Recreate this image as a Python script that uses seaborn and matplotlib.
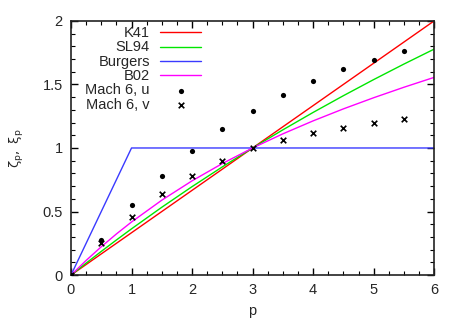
import numpy as np
import pandas as pd
import matplotlib
matplotlib.use("Agg")
import matplotlib.pyplot as plt
import seaborn as sns
from matplotlib.ticker import MultipleLocator

# Model curves
p_line = [0, 0.25, 0.5, 0.75, 1, 1.5, 2, 2.5, 3, 3.5, 4, 4.5, 5, 5.5, 6]
k41 = [0, 0.0833, 0.1667, 0.25, 0.3333, 0.5, 0.6667, 0.8333, 1.0, 1.1667, 1.3333, 1.5, 1.6667, 1.8333, 2.0]
sl94 = [0, 0.0942, 0.1863, 0.2761, 0.3640, 0.5337, 0.6959, 0.8512, 1.0, 1.1427, 1.2797, 1.4113, 1.5380, 1.6601, 1.7778]
burgers = [0, 0.25, 0.5, 0.75, 1.0, 1.0, 1.0, 1.0, 1.0, 1.0, 1.0, 1.0, 1.0, 1.0, 1.0]
b02 = [0, 0.1153, 0.2229, 0.3235, 0.4178, 0.5893, 0.7415, 0.8775, 1.0, 1.1113, 1.2133, 1.3076, 1.3953, 1.4777, 1.5556]

# Measured exponents
p_pts = [0, 0.5, 1, 1.5, 2, 2.5, 3, 3.5, 4, 4.5, 5, 5.5]
mach_u = [0, 0.28, 0.55, 0.78, 0.98, 1.15, 1.29, 1.42, 1.53, 1.62, 1.69, 1.76]
mach_v = [0, 0.25, 0.46, 0.64, 0.78, 0.90, 1.00, 1.06, 1.12, 1.16, 1.20, 1.23]

line_names = ["K41", "SL94", "Burgers", "B02"]
line_vals = [k41, sl94, burgers, b02]
line_colors = ["#ff0000", "#00e600", "#3a3aff", "#ff00ff"]

df_lines = pd.concat([pd.DataFrame({"p": p_line, "v": v, "model": n})
                      for n, v in zip(line_names, line_vals)], ignore_index=True)

sns.set_theme(style="ticks")
plt.rcParams["font.family"] = ["Liberation Sans", "DejaVu Sans"]
plt.rcParams["mathtext.fontset"] = "custom"
plt.rcParams["mathtext.rm"] = "DejaVu Sans"
plt.rcParams["mathtext.it"] = "DejaVu Sans"

fig = plt.figure(figsize=(4.58, 3.21), dpi=100)
ax = fig.add_axes([0.155, 0.143, 0.793, 0.792])

sns.lineplot(data=df_lines, x="p", y="v", hue="model", hue_order=line_names,
             palette=line_colors, linewidth=1.0, ax=ax, sort=False)
sns.scatterplot(x=p_pts, y=mach_u, color="black", marker="o", s=14,
                linewidth=0, ax=ax, label="Mach 6, u", zorder=5)
sns.scatterplot(x=p_pts, y=mach_v, color="black", marker="x", s=16,
                linewidth=1.2, ax=ax, label="Mach 6, v", zorder=5)

ax.set_xlim(0, 6)
ax.set_ylim(0, 2)
ax.xaxis.set_major_locator(MultipleLocator(1))
ax.xaxis.set_minor_locator(MultipleLocator(0.25))
ax.yaxis.set_major_locator(MultipleLocator(0.5))
ax.yaxis.set_minor_locator(MultipleLocator(0.1))
ax.set_yticks([0, 0.5, 1, 1.5, 2])
ax.set_yticklabels(["0", "0.5", "1", "1.5", "2"])
ax.tick_params(which="both", direction="in", top=True, right=True,
               labelsize=10.5, color="black")
ax.tick_params(which="major", length=5, width=1, pad=6)
ax.tick_params(which="minor", length=3, width=0.8)
for s in ax.spines.values():
    s.set_color("#222222")
    s.set_linewidth(1.2)

ax.set_xlabel("p", fontsize=10.5, labelpad=5)
ax.set_ylabel(r"$\mathrm{\zeta_p,\ \xi_p}$", fontsize=9.5, labelpad=12)

handles, labels = ax.get_legend_handles_labels()
leg = ax.legend(handles, labels, loc="upper right", bbox_to_anchor=(0.39, 1.025),
                markerfirst=False, frameon=False, fontsize=10.5,
                handlelength=2.8, handletextpad=0.7, labelspacing=0.02,
                borderpad=0.3, handleheight=0.6)

fig.savefig("out.png", dpi=100)
